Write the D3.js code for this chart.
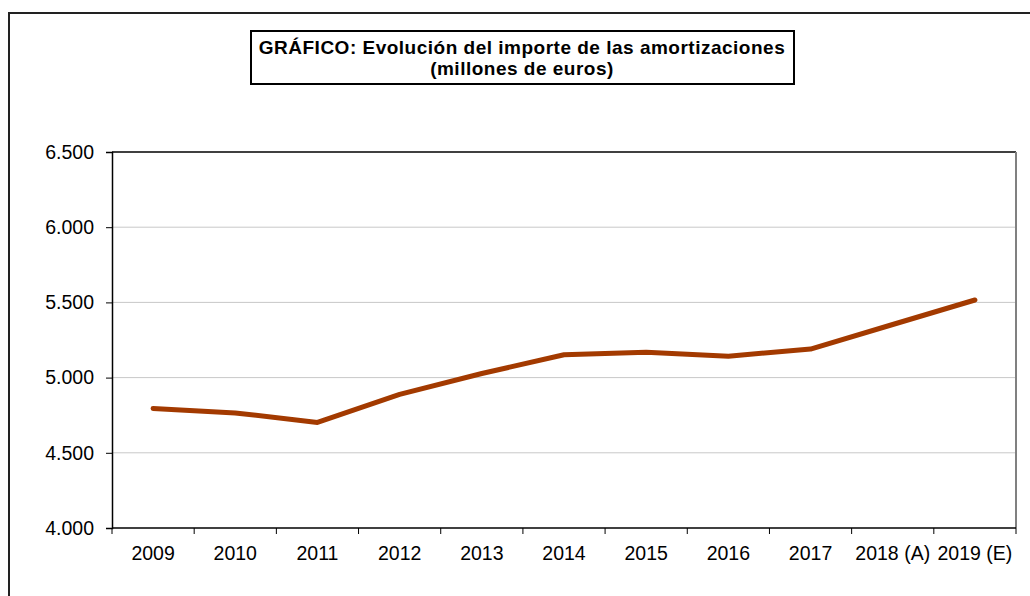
<!DOCTYPE html>
<html>
<head>
<meta charset="utf-8">
<script src="https://cdn.jsdelivr.net/npm/d3@7"></script>
<style>
  html, body { margin: 0; padding: 0; background: #fff; }
  svg { display: block; font-family: "Liberation Sans", Arial, sans-serif; }
</style>
</head>
<body>
<div id="chart"></div>
<script>
// Chart data
var years = ["2009", "2010", "2011", "2012", "2013", "2014", "2015", "2016", "2017", "2018 (A)", "2019 (E)"];
var amortizaciones = [4795, 4765, 4702, 4888, 5027, 5152, 5168, 5142, 5190, 5353, 5516];
var yTicks = [4000, 4500, 5000, 5500, 6000, 6500];
var titleLines = ["GRÁFICO: Evolución del importe de las amortizaciones", "(millones de euros)"];

var width = 1030, height = 596;
var margin = { top: 152, right: 14, bottom: 68, left: 112 };
var innerWidth = width - margin.left - margin.right;
var innerHeight = height - margin.top - margin.bottom;

var lineColor = "#a33a00";
var gridColor = "#c8c8c8";

var svg = d3.select("#chart").append("svg")
    .attr("width", width)
    .attr("height", height);

// Outer chart frame (runs off the right and bottom edges)
svg.append("path")
    .attr("d", `M${width},13H9V${height}`)
    .attr("fill", "none")
    .attr("stroke", "#222")
    .attr("stroke-width", 2);

// Title box
var title = svg.append("g");
title.append("rect")
    .attr("x", 251).attr("y", 31)
    .attr("width", 543).attr("height", 53)
    .attr("fill", "#fff")
    .attr("stroke", "#000")
    .attr("stroke-width", 2);
title.selectAll("text")
    .data(titleLines)
    .join("text")
    .attr("x", 522)
    .attr("y", (d, i) => 54 + i * 20.5)
    .attr("text-anchor", "middle")
    .attr("font-size", "19px")
    .attr("letter-spacing", "0.5px")
    .attr("font-weight", "bold")
    .attr("fill", "#000")
    .text(d => d);

var g = svg.append("g")
    .attr("transform", `translate(${margin.left}, ${margin.top})`);

// Scales
var x = d3.scaleBand()
    .domain(years)
    .range([0, innerWidth]);

var y = d3.scaleLinear()
    .domain([4000, 6500])
    .range([innerHeight, 0]);

// Gridlines
g.append("g")
    .selectAll("line")
    .data(yTicks.filter(d => d > 4000 && d < 6500))
    .join("line")
    .attr("x1", 0).attr("x2", innerWidth)
    .attr("y1", d => y(d)).attr("y2", d => y(d))
    .attr("stroke", gridColor)
    .attr("stroke-width", 1);

// Plot area border: top black, right gray
g.append("line")
    .attr("x1", 0).attr("x2", innerWidth)
    .attr("y1", 0).attr("y2", 0)
    .attr("stroke", "#000").attr("stroke-width", 1.5);
g.append("line")
    .attr("x1", innerWidth).attr("x2", innerWidth)
    .attr("y1", 0).attr("y2", innerHeight)
    .attr("stroke", "#808080").attr("stroke-width", 2);

// Y axis
var yAxis = g.append("g")
    .call(d3.axisLeft(y)
        .tickValues(yTicks)
        .tickSize(6)
        .tickPadding(12)
        .tickFormat(d => d3.format(",")(d).replace(",", ".")));

// X axis: ticks at category boundaries
var xAxis = g.append("g")
    .attr("transform", `translate(0, ${innerHeight})`)
    .call(d3.axisBottom(x).tickSize(0).tickPadding(18));

var boundaries = years.map(d => x(d)).concat([innerWidth]);
g.append("g")
    .selectAll("line")
    .data(boundaries)
    .join("line")
    .attr("x1", d => d).attr("x2", d => d)
    .attr("y1", innerHeight).attr("y2", innerHeight + 6)
    .attr("stroke", "#000");

[yAxis, xAxis].forEach(function (a) {
    a.select(".domain").attr("stroke", "#000").attr("stroke-width", 1.5);
    a.selectAll("line").attr("stroke", "#000");
    a.selectAll("text")
        .attr("font-family", "Liberation Sans, Arial, sans-serif")
        .attr("font-size", "19.5px")
        .attr("fill", "#000");
});
xAxis.select(".domain").attr("d", `M0,0H${innerWidth}`);

// Line
var line = d3.line()
    .x((d, i) => x(years[i]) + x.bandwidth() / 2)
    .y(d => y(d));

g.append("path")
    .datum(amortizaciones)
    .attr("fill", "none")
    .attr("stroke", lineColor)
    .attr("stroke-width", 5)
    .attr("stroke-linejoin", "round")
    .attr("stroke-linecap", "round")
    .attr("d", line);
</script>
</body>
</html>
